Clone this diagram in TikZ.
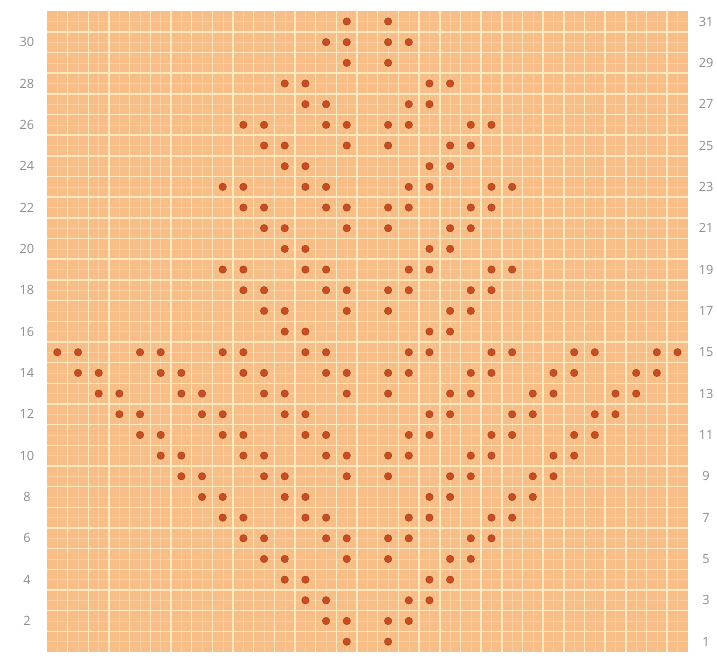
\documentclass[tikz,border=0pt]{standalone}
\usepackage{fontspec}
\setmainfont{Open Sans}
\begin{document}
\begin{tikzpicture}[x=0.6cm,y=0.6cm,line cap=round,line join=round,font=\fontsize{10.5}{12}\selectfont]
\definecolor{chartfill}{RGB}{247,190,136}
\definecolor{chartline}{RGB}{254,232,192}
\definecolor{chartfine}{RGB}{249,205,158}
\definecolor{stitchdot}{RGB}{200,78,32}
\definecolor{stitchedge}{RGB}{150,55,25}
\definecolor{labelgray}{RGB}{140,140,140}

\useasboundingbox (-2.274,-0.145) rectangle (32.41,31.54);

\newcommand{\stitch}[2]{
  \filldraw[fill=stitchdot, draw=stitchedge, line width=0.3pt]
    (#1-0.5,#2-0.5) circle (0.18);
}

% chart background
\fill[chartfill] (0,0) rectangle (31,31);
\foreach \i in {0,...,30} {
  \draw[chartfine, line width=0.35pt] (\i+0.5,0) -- (\i+0.5,31);
  \draw[chartfine, line width=0.35pt] (0,\i+0.5) -- (31,\i+0.5);
}
\foreach \i in {1,...,30} {
  \draw[chartline, line width=1.2pt] (\i,0) -- (\i,31);
  \draw[chartline, line width=1.2pt] (0,\i) -- (31,\i);
}

% row numbers
\foreach \r in {2,4,...,30} {
  \node[text=labelgray] (rowL\r) at (-0.97,\r-0.5) {\r};
}
\foreach \r in {1,3,...,31} {
  \node[text=labelgray] (rowR\r) at (31.88,\r-0.5) {\r};
}

% stitches
\foreach \r/\cols in {
  31/{15,17},
  30/{14,15,17,18},
  29/{15,17},
  28/{12,13,19,20},
  27/{13,14,18,19},
  26/{10,11,14,15,17,18,21,22},
  25/{11,12,15,17,20,21},
  24/{12,13,19,20},
  23/{9,10,13,14,18,19,22,23},
  22/{10,11,14,15,17,18,21,22},
  21/{11,12,15,17,20,21},
  20/{12,13,19,20},
  19/{9,10,13,14,18,19,22,23},
  18/{10,11,14,15,17,18,21,22},
  17/{11,12,15,17,20,21},
  16/{12,13,19,20},
  15/{1,2,5,6,9,10,13,14,18,19,22,23,26,27,30,31},
  14/{2,3,6,7,10,11,14,15,17,18,21,22,25,26,29,30},
  13/{3,4,7,8,11,12,15,17,20,21,24,25,28,29},
  12/{4,5,8,9,12,13,19,20,23,24,27,28},
  11/{5,6,9,10,13,14,18,19,22,23,26,27},
  10/{6,7,10,11,14,15,17,18,21,22,25,26},
  9/{7,8,11,12,15,17,20,21,24,25},
  8/{8,9,12,13,19,20,23,24},
  7/{9,10,13,14,18,19,22,23},
  6/{10,11,14,15,17,18,21,22},
  5/{11,12,15,17,20,21},
  4/{12,13,19,20},
  3/{13,14,18,19},
  2/{14,15,17,18},
  1/{15,17}} {
  \foreach \c in \cols {
    \stitch{\c}{\r}
  }
}
\end{tikzpicture}
\end{document}
